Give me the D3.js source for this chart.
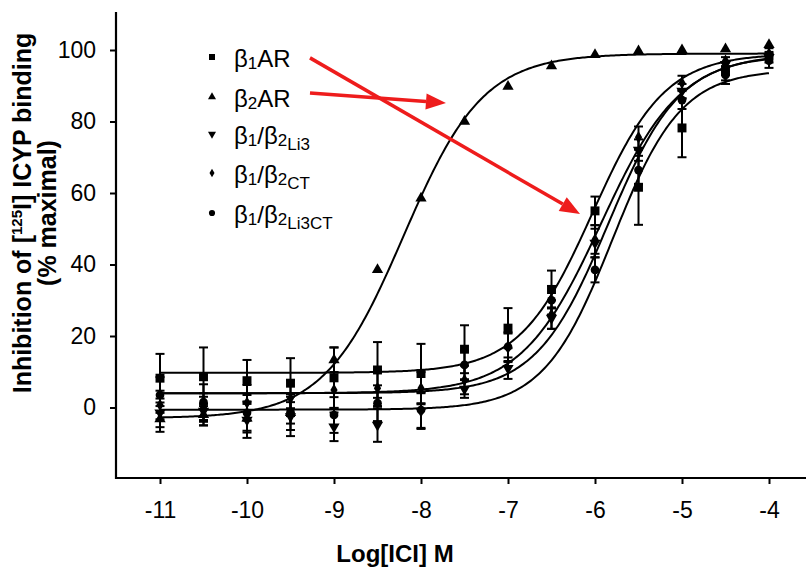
<!DOCTYPE html>
<html>
<head>
<meta charset="utf-8">
<script src="https://cdn.jsdelivr.net/npm/d3@7"></script>
<style>
  body { margin: 0; background: #fff; }
  svg { display: block; font-family: "Liberation Sans", Arial, sans-serif; }
</style>
</head>
<body>
<div id="chart"></div>
<script>
// log concentrations of ICI (M)
const logConc = [-11, -10.5, -10, -9.5, -9, -8.5, -8, -7.5, -7, -6.5, -6, -5.5, -5, -4.5, -4];

const b1AR        = [8.2, 8.6, 7.5, 6.8, 8.3, 10.5, 9.5, 16.3, 22.2, 33, 55, 61.6, 78.2, 94, 98.5];
const b1ARErr     = [6.8, 8.2, 5.8, 7, 8.5, 7.8, 8.3, 6.7, 5.6, 5.3, 4, 10.5, 8.2, 2.5, 2];
const b2AR        = [-3.2, -2, -3, -1.5, 13.3, 38.5, 58.5, 80, 89.8, 95.5, 98.7, 99.7, 100, 100.3, 101.5];
const b2ARErr     = [3.6, 3, 4, 3, 3.5, 1.5, 1.5, 1.5, 1, 1, 1, 1, 1, 1, 1];
const b1b2Li3     = [-1.5, -1, -3.5, -2.5, -5.4, -4.9, -1, 5.2, 11, 25, 46, 72, 88.5, 96, 98];
const b1b2Li3Err  = [4, 4, 5, 5.5, 4, 4.7, 5, 2.5, 3, 3, 4, 3, 2, 2, 1.5];
const b1b2CT      = [0.7, 0, 1.3, 2.6, 4.9, 5.4, 5.4, 7.7, 16.7, 26, 47, 75.6, 90.8, 97, 99];
const b1b2CTErr   = [4, 4, 5, 5, 5, 5, 4.5, 4, 4, 4, 4, 3, 2, 1.5, 1.5];
const b1b2Li3CT   = [3.5, 1.5, -1.5, -1.3, -2.1, 1.2, -0.7, 11.9, 17, 30, 38.5, 66.4, 86, 93, 97];
const b1b2Li3CTErr= [5, 5, 5, 5, 5, 5, 5, 4, 4, 4, 3.5, 4, 2.5, 2.5, 2];

// sigmoid fit parameters per series (bottom, top, logEC50, hill)
const fitBottom = [9.7, -3, -0.6, 4, 4];
const fitTop    = [99, 99, 94.5, 98.5, 99];
const fitEC50   = [-6.03, -8.2, -5.8, -5.85, -5.93];
const fitHill   = [1.04, 0.95, 1.1, 1.05, 0.95];

const xTicks = [-11, -10, -9, -8, -7, -6, -5, -4];
const yTicks = [0, 20, 40, 60, 80, 100];

const seriesNames = ["b1AR", "b2AR", "Li3", "CT", "Li3CT"];
const seriesValues = [b1AR, b2AR, b1b2Li3, b1b2CT, b1b2Li3CT];
const seriesErrors = [b1ARErr, b2ARErr, b1b2Li3Err, b1b2CTErr, b1b2Li3CTErr];

// red arrows, in data units [x1, y1, x2, y2]
const arrows = [
  [-9.276, 97.8, -6.172, 54.1],
  [-9.276, 88.0, -7.713, 85.2]
];

const width = 806, height = 570;

const svg = d3.select("#chart").append("svg")
  .attr("width", width)
  .attr("height", height);

const x = d3.scaleLinear().domain([-11, -4]).range([160, 769]);
const y = d3.scaleLinear().domain([0, 100]).range([407.5, 50]);

const axisX = 116, axisY = 478;

// axes
const yAxis = svg.append("g")
  .attr("transform", `translate(${axisX},0)`)
  .call(d3.axisLeft(y).tickValues(yTicks).tickSize(6).tickPadding(14).tickFormat(d => String(d)));
yAxis.select(".domain").remove();
yAxis.selectAll("line").attr("stroke", "#000").attr("stroke-width", 2);
yAxis.selectAll("text").attr("font-size", 23).attr("fill", "#000");

const xAxis = svg.append("g")
  .attr("transform", `translate(0,${axisY})`)
  .call(d3.axisBottom(x).tickValues(xTicks).tickSize(6).tickPadding(18).tickFormat(d => String(d)));
xAxis.select(".domain").remove();
xAxis.selectAll("line").attr("stroke", "#000").attr("stroke-width", 2);
xAxis.selectAll("text").attr("font-size", 23).attr("fill", "#000");

svg.append("line")
  .attr("x1", axisX).attr("x2", axisX)
  .attr("y1", 12).attr("y2", axisY + 1)
  .attr("stroke", "#000").attr("stroke-width", 2.2);
svg.append("line")
  .attr("x1", axisX - 1).attr("x2", width)
  .attr("y1", axisY).attr("y2", axisY)
  .attr("stroke", "#000").attr("stroke-width", 2.2);

// axis titles
svg.append("text")
  .attr("x", 395).attr("y", 562)
  .attr("text-anchor", "middle")
  .attr("font-size", 24).attr("font-weight", "bold")
  .text("Log[ICI] M");

const yt = svg.append("text")
  .attr("transform", "translate(31,213) rotate(-90)")
  .attr("text-anchor", "middle")
  .attr("font-size", 25).attr("font-weight", "bold");
yt.append("tspan").text("Inhibition of [");
yt.append("tspan").attr("font-size", 15).attr("dy", -9).text("125");
yt.append("tspan").attr("dy", 9).text("I] ICYP binding");
svg.append("text")
  .attr("transform", "translate(56,213) rotate(-90)")
  .attr("text-anchor", "middle")
  .attr("font-size", 25).attr("font-weight", "bold")
  .text("(% maximal)");

// fitted curves
const fitX = d3.range(-11, -3.999, 0.02);
const line = d3.line().x(d => x(d[0])).y(d => y(d[1]));
seriesNames.forEach((name, i) => {
  const pts = fitX.map(lx => [lx,
    fitBottom[i] + (fitTop[i] - fitBottom[i]) / (1 + Math.pow(10, (fitEC50[i] - lx) * fitHill[i]))]);
  svg.append("path")
    .datum(pts)
    .attr("fill", "none")
    .attr("stroke", "#000")
    .attr("stroke-width", 2)
    .attr("d", line);
});

// symbols
const triDown = {
  draw(ctx, size) {
    const s = Math.sqrt(size * 4 / Math.sqrt(3));
    const h = s * Math.sqrt(3) / 2;
    ctx.moveTo(-s / 2, -h / 3);
    ctx.lineTo(s / 2, -h / 3);
    ctx.lineTo(0, 2 * h / 3);
    ctx.closePath();
  }
};
const symbolTypes = [d3.symbolSquare, d3.symbolTriangle, triDown, d3.symbolDiamond, d3.symbolCircle];
const symbolSizes = [80, 55, 55, 45, 60];
const legendSizes = [36, 28, 28, 22, 30];

// error bars
seriesNames.forEach((name, i) => {
  const g = svg.append("g").attr("stroke", "#000").attr("stroke-width", 2);
  logConc.forEach((lx, j) => {
    const v = seriesValues[i][j], e = seriesErrors[i][j];
    if (e < 2) return;
    const cx = x(lx);
    g.append("line").attr("x1", cx).attr("x2", cx).attr("y1", y(v - e)).attr("y2", y(v + e));
    g.append("line").attr("x1", cx - 4.5).attr("x2", cx + 4.5).attr("y1", y(v - e)).attr("y2", y(v - e));
    g.append("line").attr("x1", cx - 4.5).attr("x2", cx + 4.5).attr("y1", y(v + e)).attr("y2", y(v + e));
  });
});

// points
seriesNames.forEach((name, i) => {
  svg.append("g").selectAll("path")
    .data(logConc.map((lx, j) => [lx, seriesValues[i][j]]))
    .join("path")
    .attr("transform", d => `translate(${x(d[0])},${y(d[1])})`)
    .attr("d", d3.symbol().type(symbolTypes[i]).size(symbolSizes[i]))
    .attr("fill", "#000");
});

// legend
const legendRows = [
  [["β"], ["1", "s1"], ["AR"]],
  [["β"], ["2", "s1"], ["AR"]],
  [["β"], ["1", "s1"], ["/", "n"], ["β"], ["2", "s1"], ["Li3", "s2"]],
  [["β"], ["1", "s1"], ["/", "n"], ["β"], ["2", "s1"], ["CT", "s2"]],
  [["β"], ["1", "s1"], ["/", "n"], ["β"], ["2", "s1"], ["Li3CT", "s2"]]
];
const legendY = [57, 97, 134, 173, 213];
legendRows.forEach((parts, i) => {
  svg.append("path")
    .attr("transform", `translate(212,${legendY[i]})`)
    .attr("d", d3.symbol().type(symbolTypes[i]).size(legendSizes[i]))
    .attr("fill", "#000");
  const t = svg.append("text")
    .attr("x", 234).attr("y", legendY[i] + 10)
    .attr("font-size", 24);
  let shift = 0;
  parts.forEach(([s, kind]) => {
    const target = kind === "s1" ? 2 : kind === "s2" ? 6 : 0;
    t.append("tspan")
      .attr("dy", target - shift)
      .attr("font-size", kind === "s1" || kind === "s2" ? 17 : 24)
      .text(s);
    shift = target;
  });
});

// red arrows
const arrowG = svg.append("g");
arrows.forEach(a => {
  const x1 = x(a[0]), y1 = y(a[1]), x2 = x(a[2]), y2 = y(a[3]);
  const ang = Math.atan2(y2 - y1, x2 - x1);
  const headL = 20, headW = 8;
  const bx = x2 - headL * Math.cos(ang), by = y2 - headL * Math.sin(ang);
  arrowG.append("line")
    .attr("x1", x1).attr("y1", y1).attr("x2", bx).attr("y2", by)
    .attr("stroke", "#ee1c1c").attr("stroke-width", 3.5);
  const px = -Math.sin(ang) * headW, py = Math.cos(ang) * headW;
  arrowG.append("path")
    .attr("d", `M${x2},${y2}L${bx + px},${by + py}L${bx - px},${by - py}Z`)
    .attr("fill", "#ee1c1c");
});
</script>
</body>
</html>
